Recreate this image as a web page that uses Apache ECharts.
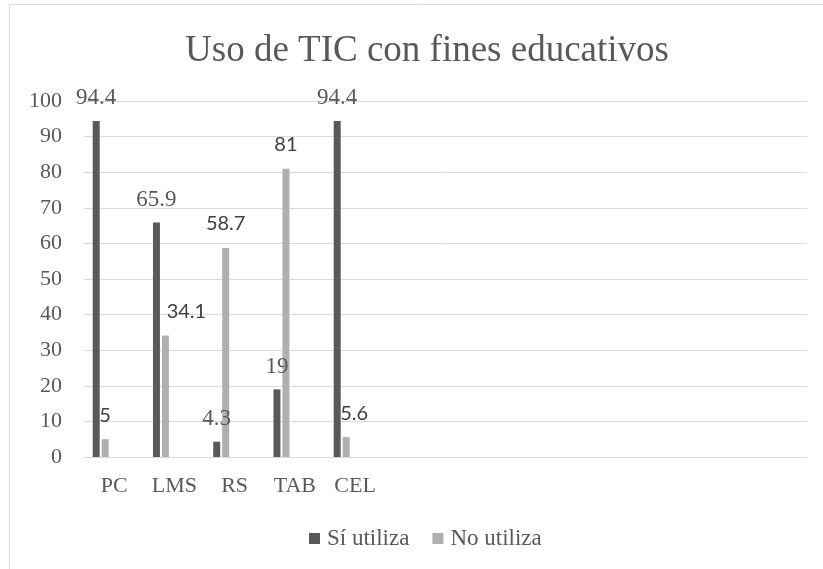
<!DOCTYPE html>
<html lang="es">
<head>
    <meta charset="utf-8">
    <title>Uso de TIC con fines educativos</title>
    <script src="https://cdn.jsdelivr.net/npm/echarts@6/dist/echarts.min.js"></script>
    <style>
        html, body { margin: 0; padding: 0; background: #fff; }
        #chart { width: 823px; height: 569px; }
    </style>
</head>
<body>
<div id="chart"></div>
<script type="text/javascript">
    // categories (the original chart keeps 7 empty slots on the right)
    var categories = ['PC', 'LMS', 'RS', 'TAB', 'CEL', '', '', '', '', '', '', ''];
    var siUtiliza = [94.4, 65.9, 4.3, 19, 94.4];
    var noUtiliza = [5, 34.1, 58.7, 81, 5.6];
    var seriesNames = ['Sí utiliza', 'No utiliza'];
    var yTicks = [0, 100, 10];

    var serif = '"Liberation Serif", serif';
    // a couple of labels were dragged sideways in the original
    var noLabelNudge = {1: 21, 4: 8};

    var myChart = echarts.init(document.getElementById('chart'));

    var noData = noUtiliza.map(function (v, i) {
        var item = {value: v};
        if (noLabelNudge[i]) {
            item.label = {offset: [noLabelNudge[i], 0]};
        }
        return item;
    });

    // empty series that only hold space in each category, as in the source
    function spacer(name) {
        return {name: name, type: 'bar', barWidth: 7, data: [], silent: true};
    }

    myChart.setOption({
        animation: false,
        title: {
            text: 'Uso de TIC con fines educativos',
            left: 422,
            top: 28,
            textAlign: 'center',
            textStyle: {fontFamily: serif, fontSize: 37, fontWeight: 'normal', color: '#595959'}
        },
        legend: {
            data: seriesNames,
            left: 309,
            top: 527,
            padding: 0,
            icon: 'rect',
            itemWidth: 11,
            itemHeight: 11,
            itemGap: 23,
            textStyle: {fontFamily: serif, fontSize: 23, color: '#595959', padding: [0, 0, 0, 2]}
        },
        graphic: [{
            type: 'polyline',
            shape: {points: [[9.5, 600], [9.5, 4.5], [830, 4.5]]},
            style: {stroke: '#d9d9d9', lineWidth: 1, fill: null},
            silent: true
        }],
        grid: {left: 84, right: 16, top: 101, bottom: 112, containLabel: false},
        xAxis: {
            type: 'category',
            data: categories,
            axisLine: {lineStyle: {color: '#d9d9d9', width: 1}},
            axisTick: {show: false},
            axisLabel: {fontFamily: serif, fontSize: 22, color: '#595959', margin: 18, interval: 0}
        },
        yAxis: {
            type: 'value',
            min: yTicks[0],
            max: yTicks[1],
            interval: yTicks[2],
            axisLine: {show: false},
            axisTick: {show: false},
            splitLine: {lineStyle: {color: '#d9d9d9', width: 1}},
            axisLabel: {fontFamily: serif, fontSize: 22, color: '#595959', margin: 22}
        },
        series: [
            {
                name: seriesNames[0],
                type: 'bar',
                barWidth: 7,
                barGap: '28%',
                itemStyle: {color: '#595959'},
                label: {
                    show: true,
                    position: 'top',
                    distance: 11,
                    fontFamily: serif,
                    fontSize: 23,
                    color: '#595959'
                },
                data: siUtiliza
            },
            {
                name: seriesNames[1],
                type: 'bar',
                barWidth: 7,
                barGap: '28%',
                itemStyle: {color: '#afafaf'},
                label: {
                    show: true,
                    position: 'top',
                    distance: 14,
                    fontFamily: 'Lato',
                    fontSize: 20,
                    color: '#404040'
                },
                data: noData
            },
            spacer('s3'),
            spacer('s4'),
            spacer('s5')
        ]
    });
</script>
</body>
</html>
